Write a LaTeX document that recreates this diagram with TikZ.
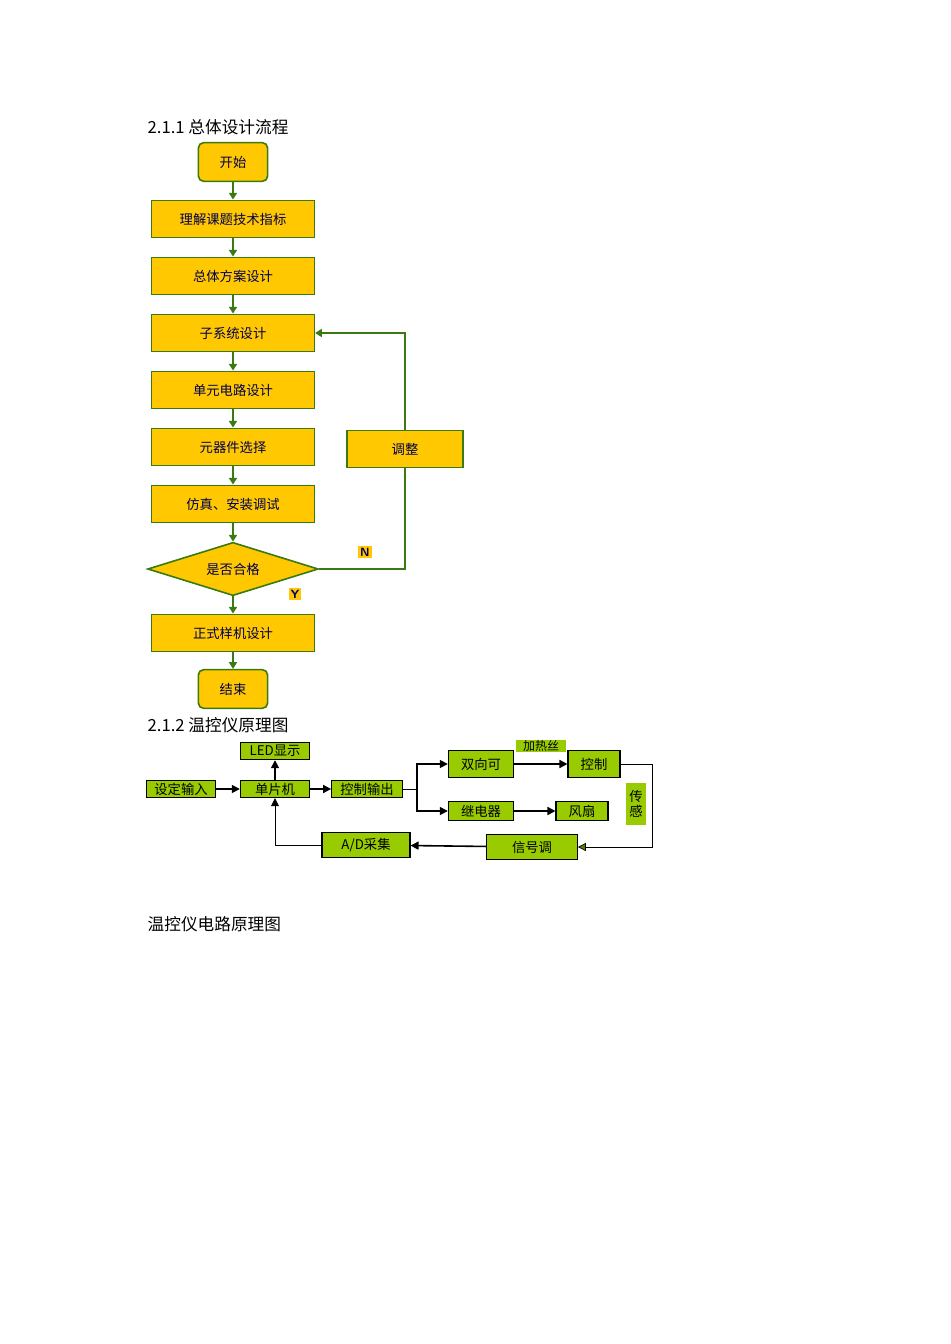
\documentclass[tikz,border=0pt]{standalone}
\usepackage{fontspec}
\setmainfont{Noto Sans CJK SC}
\usetikzlibrary{shapes.geometric,arrows.meta}
\definecolor{yel}{HTML}{FFC800}
\definecolor{dg}{HTML}{3A7A10}
\definecolor{lg}{HTML}{99CC00}
\begin{document}
\begin{tikzpicture}[x=0.75pt,y=-0.75pt,
  fbox/.style={draw=dg,line width=1.2pt,fill=yel,minimum width=122pt,minimum height=28pt,inner sep=0pt,font=\fontsize{10}{12}\selectfont,text=black!70!blue},
  term/.style={fbox,rounded corners=4pt,minimum width=52pt,minimum height=29pt},
  farr/.style={draw=dg,line width=1.2pt,-{Triangle[length=5pt,width=6pt]}},
  gbox/.style={draw=black,line width=0.8pt,fill=lg,inner sep=0pt,font=\fontsize{10}{12}\selectfont},
  garr/.style={draw=black,line width=1.2pt,-{Triangle[length=6pt,width=6pt]}},
  gline/.style={draw=black,line width=0.5pt}]
\useasboundingbox (0,0) rectangle (950,1344);
\node[anchor=west,font=\fontsize{12.5}{14}\selectfont] (h1) at (143,127) {2.1.1 总体设计流程};
\node[term] (s) at (233,162) {开始};
\node[fbox] (b1) at (233,219) {理解课题技术指标};
\node[fbox] (b2) at (233,276) {总体方案设计};
\node[fbox] (b3) at (233,333) {子系统设计};
\node[fbox] (b4) at (233,390) {单元电路设计};
\node[fbox] (b5) at (233,447) {元器件选择};
\node[fbox] (b6) at (233,504) {仿真、安装调试};
\node[diamond,draw=dg,line width=1.2pt,fill=yel,aspect=3.2,minimum width=128pt,minimum height=40pt,inner sep=0pt,font=\fontsize{10}{12}\selectfont,text=black!70!blue] (d) at (233,569) {是否合格};
\node[fbox] (b7) at (233,633) {正式样机设计};
\node[term] (e) at (233,689) {结束};
\node[fbox,minimum width=87pt] (adj) at (405,449) {调整};
\node[fill=yel,inner sep=1.5pt,font=\sffamily\bfseries\small,text=blue!40!black] (N) at (365,552) {N};
\node[fill=yel,inner sep=1.5pt,font=\sffamily\bfseries\small,text=blue!40!black] (Y) at (295,594) {Y};
\draw[farr] (s)--(b1);
\draw[farr] (b1)--(b2);
\draw[farr] (b2)--(b3);
\draw[farr] (b3)--(b4);
\draw[farr] (b4)--(b5);
\draw[farr] (b5)--(b6);
\draw[farr] (b6)--(d);
\draw[farr] (d)--(b7);
\draw[farr] (b7)--(e);
\draw[draw=dg,line width=1.2pt] (d.east) -| (adj.south);
\draw[farr] (adj.north) |- (b3.east);
\node[anchor=west,font=\fontsize{12.5}{14}\selectfont] (h2) at (143,725) {2.1.2 温控仪原理图};
\node[gbox,minimum width=52pt,minimum height=13pt] (led) at (275,751) {LED显示};
\node[gbox,minimum width=52pt,minimum height=13pt] (set) at (181,789) {设定输入};
\node[gbox,minimum width=52pt,minimum height=13pt] (mcu) at (275,789) {单片机};
\node[gbox,minimum width=53pt,minimum height=13pt] (co) at (367,789) {控制输出};
\node[gbox,minimum width=49pt,minimum height=20pt] (sx) at (481,764) {双向可};
\node[fill=lg,inner sep=0pt,minimum width=37pt,minimum height=9pt,font=\fontsize{9}{10}\selectfont] (jr) at (541,746) {加热丝};
\node[gbox,minimum width=39pt,minimum height=20pt] (kz) at (594,764) {控制};
\node[gbox,minimum width=49pt,minimum height=14pt] (jd) at (481,811) {继电器};
\node[gbox,minimum width=39pt,minimum height=14pt] (fs) at (582,811) {风扇};
\node[fill=lg,inner sep=0pt,minimum width=15pt,minimum height=32pt,font=\fontsize{10}{11}\selectfont,align=center] (cg) at (636,804) {传\\感};
\node[gbox,minimum width=68pt,minimum height=19pt] (xh) at (532,847) {信号调};
\node[gbox,minimum width=66pt,minimum height=19pt] (ad) at (366,845) {A/D采集};
\coordinate (br) at (417,789);
\coordinate (rc) at (652,764);
\draw[garr] (set)--(mcu);
\draw[garr] (mcu)--(led);
\draw[garr] (mcu)--(co);
\draw[gline] (co.east)--(br);
\draw[garr] (br) |- (sx.west);
\draw[garr] (br) |- (jd.west);
\draw[garr] (sx)--(kz);
\draw[garr] (jd)--(fs);
\draw[gline] (kz.east)--(rc);
\draw[gline,-{Triangle[length=6pt,width=6pt,fill=lg!60!black]}] (rc) |- (xh.east);
\draw[garr] (xh)--(ad);
\draw[gline,-{Triangle[length=6pt,width=6pt]}] (ad.west) -| (mcu.south);
\node[anchor=west,font=\fontsize{12.5}{14}\selectfont] (h3) at (143,924) {温控仪电路原理图};
\end{tikzpicture}
\end{document}
